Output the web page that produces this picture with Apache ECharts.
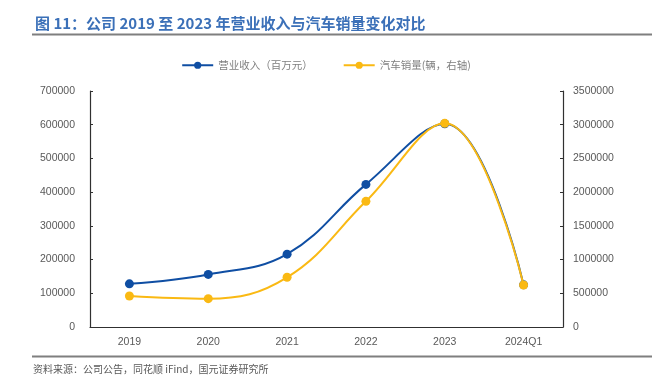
<!DOCTYPE html>
<html>
<head>
<meta charset="utf-8">
<script src="https://cdn.jsdelivr.net/npm/echarts@6/dist/echarts.min.js"></script>
<style>
html,body{margin:0;padding:0;background:#fff;}
#c{width:652px;height:379px;}
</style>
</head>
<body>
<div id="c"></div>
<script>
var categories = ['2019', '2020', '2021', '2022', '2023', '2024Q1'];
var revenue = [128000, 156000, 216000, 423000, 603000, 125000];
var sales = [460000, 420000, 737000, 1864000, 3020000, 623000];
var leftTicks = [0, 100000, 200000, 300000, 400000, 500000, 600000, 700000];
var rightTicks = [0, 500000, 1000000, 1500000, 2000000, 2500000, 3000000, 3500000];

var FONT = '"Liberation Sans", Arial, sans-serif';
var CJK = '"Noto Sans CJK SC", sans-serif';
function plain(v) { return String(v); }
var chart = echarts.init(document.getElementById('c'));
chart.setOption({
  animation: false,
  backgroundColor: '#fff',
  title: {
    text: '图 11：公司 2019 至 2023 年营业收入与汽车销量变化对比',
    left: 30, top: 11,
    textStyle: {color: '#3b70b8', fontSize: 15, fontWeight: 'bold', fontFamily: CJK}
  },
  graphic: [
    {type: 'line', shape: {x1: 32, y1: 34.5, x2: 652, y2: 34.5}, style: {stroke: '#7f7f7f', lineWidth: 2}},
    {type: 'line', shape: {x1: 32, y1: 356.5, x2: 652, y2: 356.5}, style: {stroke: '#7f7f7f', lineWidth: 2}},
    {type: 'text', left: 33, top: 364, style: {text: '资料来源：公司公告，同花顺 iFind，国元证券研究所', fill: '#595959', font: '10px ' + CJK}}
  ],
  legend: {
    top: 55, left: 'center', itemWidth: 31, itemHeight: 9, itemGap: 30,
    textStyle: {color: '#7f7f7f', fontSize: 10.5, fontFamily: CJK},
    data: ['营业收入（百万元）', '汽车销量(辆，右轴)']
  },
  grid: {left: 90, right: 89, top: 91, bottom: 52, containLabel: false},
  xAxis: {
    type: 'category', data: categories, boundaryGap: true,
    axisLine: {lineStyle: {color: '#303030', width: 1.2}},
    axisTick: {inside: true, length: 4, lineStyle: {color: '#303030'}},
    axisLabel: {color: '#595959', fontSize: 10.5, fontFamily: FONT, margin: 10}
  },
  yAxis: [
    {
      type: 'value', min: leftTicks[0], max: leftTicks[leftTicks.length - 1], interval: leftTicks[1] - leftTicks[0],
      axisLine: {show: true, lineStyle: {color: '#303030', width: 1.2}},
      axisTick: {show: true, inside: true, length: 3, lineStyle: {color: '#303030'}},
      splitLine: {show: false},
      axisLabel: {color: '#595959', fontSize: 10.5, fontFamily: FONT, margin: 15, formatter: plain}
    },
    {
      type: 'value', min: rightTicks[0], max: rightTicks[rightTicks.length - 1], interval: rightTicks[1] - rightTicks[0],
      position: 'right',
      axisLine: {show: true, lineStyle: {color: '#303030', width: 1.2}},
      axisTick: {show: true, inside: true, length: 3, lineStyle: {color: '#303030'}},
      splitLine: {show: false},
      axisLabel: {color: '#595959', fontSize: 10.5, fontFamily: FONT, margin: 10, formatter: plain}
    }
  ],
  series: [
    {
      name: '营业收入（百万元）', type: 'line', yAxisIndex: 0, data: revenue, smooth: 0.4,
      symbol: 'circle', symbolSize: 9,
      itemStyle: {color: '#0f4ea3'}, lineStyle: {color: '#0f4ea3', width: 2}, z: 2
    },
    {
      name: '汽车销量(辆，右轴)', type: 'line', yAxisIndex: 1, data: sales, smooth: 0.4,
      symbol: 'circle', symbolSize: 9,
      itemStyle: {color: '#fab913'}, lineStyle: {color: '#fab913', width: 2}, z: 3
    }
  ]
});
</script>
</body>
</html>
